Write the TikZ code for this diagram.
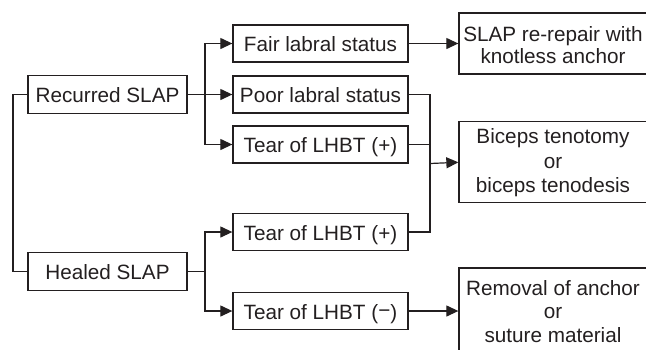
\documentclass[tikz,border=0pt]{standalone}
\usepackage{fontspec}
\setmainfont{Liberation Sans}
\usetikzlibrary{arrows.meta}
\definecolor{ink}{HTML}{231F20}
\newcommand{\boxlines}[2]{\raisebox{#1}[0pt][0pt]{\begin{tabular}[t]{@{}c@{}}#2\end{tabular}}}
\tikzset{
  box/.style={draw=ink, line width=1.3pt, text=ink, inner sep=0pt,
    font=\fontsize{20.7}{23.5}\selectfont},
  small/.style={box, minimum width=175pt, minimum height=37pt, text height=16pt, text depth=0pt},
  big/.style={box, minimum width=159pt, minimum height=38pt, text height=16pt, text depth=0pt},
  res/.style={box, minimum width=188pt},
  link/.style={draw=ink, line width=1.2pt},
  arr/.style={link, -{Triangle[length=12pt,width=11pt]}}
}
\begin{document}
\begin{tikzpicture}[x=1pt,y=-1pt]
\useasboundingbox (0,0) rectangle (646,349);
\clip (0,0) rectangle (646,349);
\node[big] (rec) at (107.5,94.5) {Recurred SLAP};
\node[big] (heal) at (107.5,271.5) {Healed SLAP};
\node[small] (fair) at (320.5,43.5) {Fair labral status};
\node[small] (poor) at (320.5,94.5) {Poor labral status};
\node[small] (t1) at (320.5,144.5) {Tear of LHBT (+)};
\node[small] (t2) at (320.5,232) {Tear of LHBT (+)};
\node[small] (t3) at (320.5,311) {Tear of LHBT (\raisebox{0.1ex}{−})};
\node[res, minimum height=61pt, font=\fontsize{20.7}{21.6}\selectfont] (slap) at (553,43.5)
  {\boxlines{1.8pt}{SLAP re-repair with\\knotless anchor}};
\node[res, minimum height=81pt, font=\fontsize{20.7}{24.8}\selectfont] (bic) at (553,162.3)
  {\boxlines{19pt}{Biceps tenotomy\\or\\biceps tenodesis}};
\node[res, minimum height=100pt] (rem) at (553,318)
  {\boxlines{23pt}{Removal of anchor\\or\\suture material}};
% left joining line
\coordinate (lj) at (13,94.5);
\draw[link] (rec.west) -- (lj) |- (heal.west);
% recurred branches
\coordinate (rj) at (205,94.5);
\draw[link] (rec.east) -- (rj);
\draw[arr] (rj) |- (fair.west);
\draw[arr] (rj) -- (poor.west);
\draw[arr] (rj) |- (t1.west);
% healed branches
\coordinate (hj) at (205,271.5);
\draw[link] (heal.east) -- (hj);
\draw[arr] (hj) |- (t2.west);
\draw[arr] (hj) |- (t3.west);
% to results
\draw[arr] (fair.east) -- (fair.east -| slap.west);
\coordinate (bj) at (430,163.5);
\draw[link] (poor.east) -| (bj) |- (t2.east);
\draw[link] (t1.east) -- (t1.east -| bj);
\draw[arr] (bj) -- (bic.west);
\draw[arr] (t3.east) -- (t3.east -| rem.west);
\end{tikzpicture}
\end{document}
